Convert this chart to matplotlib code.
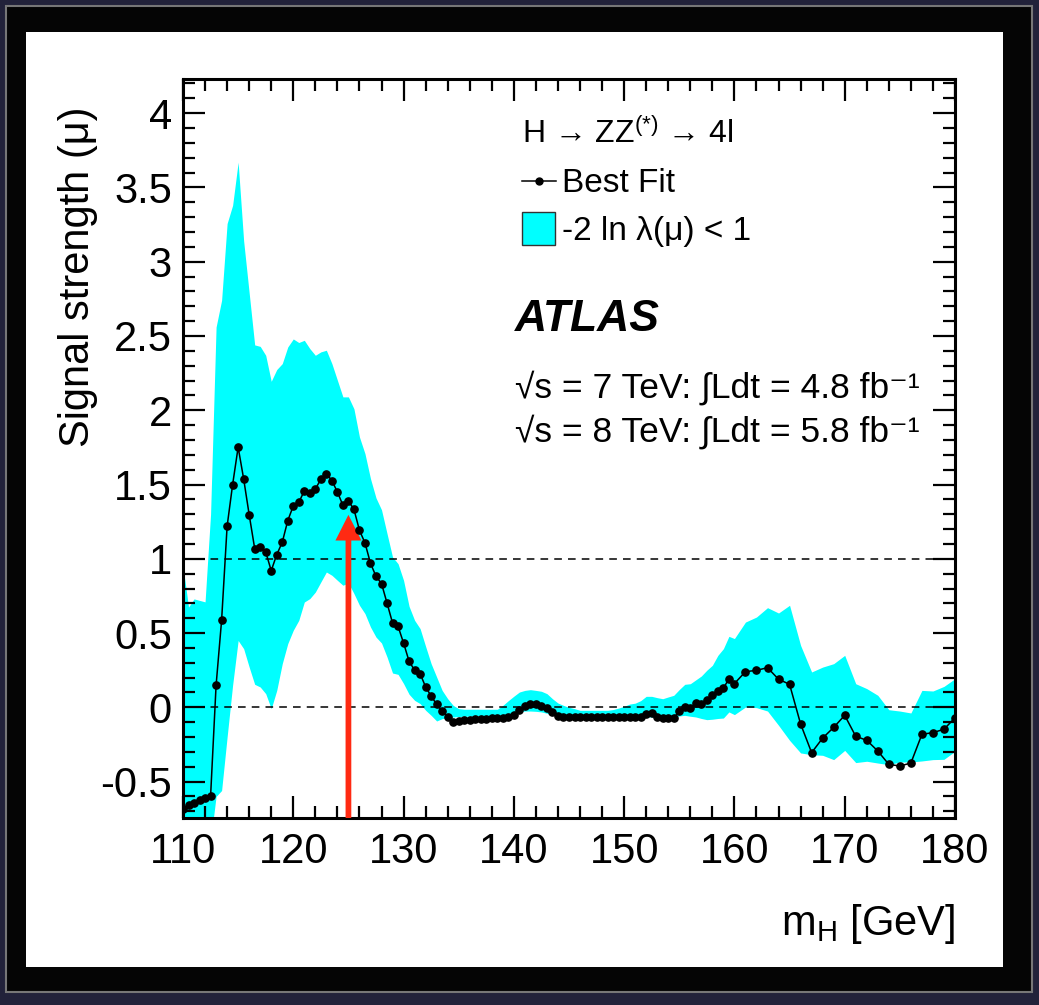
import numpy as np
import matplotlib
matplotlib.use('Agg')
import matplotlib.pyplot as plt
from matplotlib.patches import Rectangle
from matplotlib.lines import Line2D
from matplotlib.ticker import MultipleLocator, FuncFormatter

plt.rcParams['font.family'] = ['Liberation Sans', 'DejaVu Sans']
plt.rcParams['mathtext.fontset'] = 'custom'
plt.rcParams['mathtext.rm'] = 'Liberation Sans'
plt.rcParams['mathtext.it'] = 'Liberation Sans:italic'
plt.rcParams['axes.unicode_minus'] = False

### mass points: 0.5 GeV steps up to 160, then 1 GeV steps
m_H = np.concatenate([np.arange(110, 160.01, 0.5), np.arange(161, 181, 1)])

best_fit = [
    -0.682, -0.66, -0.642, -0.626, -0.61, -0.60, 0.148, 0.586, 1.219, 1.50,
    1.751, 1.538, 1.297, 1.069, 1.08, 1.046, 0.92, 1.028, 1.111, 1.257,
    1.356, 1.38, 1.457, 1.443, 1.47, 1.535, 1.574, 1.526, 1.45, 1.36,
    1.389, 1.333, 1.192, 1.107, 0.97, 0.882, 0.833, 0.702, 0.568, 0.545,
    0.433, 0.31, 0.25, 0.227, 0.137, 0.076, 0.02, -0.025, -0.062,
    -0.097, -0.09, -0.088, -0.083, -0.08, -0.078, -0.076, -0.074, -0.072, -0.07,
    -0.065, -0.054, -0.016, 0.009, 0.02, 0.02, 0.011, -0.005, -0.031, -0.058,
    -0.062, -0.063, -0.064, -0.064, -0.065, -0.065, -0.065, -0.066, -0.066, -0.066,
    -0.067, -0.067, -0.068, -0.068, -0.068,
    -0.043, -0.038, -0.062, -0.072, -0.07, -0.072, -0.027, 0.002, -0.005, 0.03,
    0.025, 0.052, 0.081, 0.11, 0.13, 0.19, 0.16,
    0.24, 0.249, 0.267, 0.189, 0.155, -0.112, -0.305, -0.207, -0.135, -0.054,
    -0.195, -0.222, -0.294, -0.384, -0.395, -0.375, -0.182, -0.17, -0.148, -0.07,
]

band_hi = [
    0.95, 0.675, 0.73, 0.72, 0.71, 1.3, 2.56, 2.74, 3.257, 3.38,
    3.67, 3.14, 2.79, 2.44, 2.43, 2.37, 2.195, 2.274, 2.314, 2.426,
    2.48, 2.456, 2.471, 2.415, 2.37, 2.393, 2.404, 2.314, 2.202, 2.09,
    2.09, 2.01, 1.82, 1.708, 1.54, 1.41, 1.33, 1.17, 1.012, 0.967,
    0.855, 0.68, 0.586, 0.53, 0.41, 0.294, 0.204, 0.114, 0.058,
    0.013, -0.009, -0.013, -0.013, -0.013, -0.013, -0.013, -0.013, -0.013, 0.013,
    0.045, 0.075, 0.103, 0.114, 0.119, 0.114, 0.108, 0.092, 0.058, 0.029,
    0.013, 0.0, -0.009, -0.02, -0.02, -0.02, -0.02, -0.02, -0.02, -0.015,
    -0.005, 0.007, 0.022, 0.028, 0.045,
    0.074, 0.074, 0.065, 0.058, 0.07, 0.081, 0.12, 0.155, 0.159, 0.185,
    0.211, 0.25, 0.283, 0.35, 0.395, 0.478, 0.463,
    0.574, 0.608, 0.671, 0.635, 0.687, 0.417, 0.238, 0.271, 0.294, 0.35,
    0.159, 0.126, 0.081, -0.016, -0.025, -0.038, 0.114, 0.11, 0.141, 0.193,
]

band_lo = [
    -0.9, -0.9, -0.9, -0.9, -0.9, -0.9, -0.6, -0.56, -0.2, 0.15,
    0.45, 0.395, 0.271, 0.155, 0.137, 0.092, -0.009, 0.114, 0.294, 0.429,
    0.519, 0.586, 0.709, 0.732, 0.776, 0.844, 0.911, 0.889, 0.855, 0.822,
    0.837, 0.766, 0.687, 0.631, 0.541, 0.473, 0.433, 0.339, 0.231, 0.222,
    0.16, 0.088, 0.047, 0.025, -0.02, -0.054, -0.092, -0.076, -0.07,
    -0.065, -0.062, -0.06, -0.06, -0.058, -0.057, -0.056, -0.055, -0.054, -0.05,
    -0.045, -0.038, -0.03, -0.025, -0.025, -0.027, -0.031, -0.04, -0.048, -0.054,
    -0.065, -0.065, -0.065, -0.065, -0.065, -0.065, -0.065, -0.065, -0.065, -0.065,
    -0.065, -0.065, -0.065, -0.065, -0.065,
    -0.065, -0.065, -0.065, -0.065, -0.065, -0.065, -0.058, -0.054, -0.06, -0.065,
    -0.075, -0.083, -0.08, -0.075, -0.072, -0.031, -0.049,
    0.002, -0.002, -0.025, -0.121, -0.222, -0.307, -0.319, -0.323, -0.352, -0.29,
    -0.372, -0.363, -0.375, -0.386, -0.368, -0.368, -0.361, -0.352, -0.35, -0.296,
]

m_obs = 125.0   # red arrow
arrow_top = 1.296

fig = plt.figure(figsize=(10.39, 10.05), dpi=100, facecolor='#22223a')
W, H = 1039., 1005.
# dark frame and white card (behind the axes)
fig.patches.append(Rectangle((6/W, 1-992/H), 1026/W, 986/H, transform=fig.transFigure,
                             facecolor='#050505', edgecolor='#777777', lw=1.5, zorder=-2))
fig.patches.append(Rectangle((26/W, 1-967/H), 977/W, 935/H, transform=fig.transFigure,
                             facecolor='white', edgecolor='none', zorder=-1))

ax = fig.add_axes([183/W, 1-818/H, 772/W, 739/H])
ax.set_facecolor('none')

ax.fill_between(m_H, band_lo, band_hi, color='#00ffff', lw=0, zorder=1)
ax.axhline(0, color='black', lw=1.1, ls=(0, (5, 4)), zorder=2)
ax.axhline(1, color='black', lw=1.1, ls=(0, (5, 4)), zorder=2)
ax.arrow(m_obs, -0.745, 0, arrow_top + 0.745, width=0.52, head_width=2.36, head_length=0.173,
         length_includes_head=True, color='#ff2a12', lw=0, zorder=3)
ax.plot(m_H, best_fit, color='black', lw=1.1, marker='o', ms=5.2, zorder=4)

ax.set_xlim(110, 180)
ax.set_ylim(-0.745, 4.23)

ax.xaxis.set_major_locator(MultipleLocator(10))
ax.xaxis.set_minor_locator(MultipleLocator(2))
ax.yaxis.set_major_locator(MultipleLocator(0.5))
ax.yaxis.set_minor_locator(MultipleLocator(0.1))
ax.yaxis.set_major_formatter(FuncFormatter(lambda v, p: '%g' % v))
ax.tick_params(which='both', direction='in', top=True, right=True, width=1.6, labelsize=30)
ax.tick_params(which='major', length=16)
ax.tick_params(which='minor', length=8.5)
ax.tick_params(axis='x', pad=10)
ax.tick_params(axis='y', pad=8)
for s in ax.spines.values():
    s.set_linewidth(2.2)

fig.text(78/W, 1-106/H, 'Signal strength (μ)', rotation=90, ha='center', va='top', fontsize=30)
fig.text(955/W, 1-935/H, r'm$_\mathrm{H}$ [GeV]', ha='right', va='baseline', fontsize=30)

# legend, drawn by hand
fig.text(522/W, 1-143/H, r'H → ZZ$^{(*)}$ → 4l', ha='left', va='baseline', fontsize=23)
fig.lines.append(Line2D([522/W, 556/W], [1-181/H, 1-181/H], transform=fig.transFigure,
                        color='black', lw=1.1))
fig.lines.append(Line2D([539/W], [1-181/H], transform=fig.transFigure,
                        color='black', marker='o', ms=5))
fig.text(562/W, 1-192/H, 'Best Fit', ha='left', va='baseline', fontsize=24)
fig.patches.append(Rectangle((522/W, 1-245/H), 33/W, 33/H, transform=fig.transFigure,
                             facecolor='#00ffff', edgecolor='#333333', lw=1))
fig.text(562/W, 1-240/H, '-2 ln λ(μ) < 1', ha='left', va='baseline', fontsize=24)

fig.text(515/W, 1-331/H, 'ATLAS', ha='left', va='baseline', fontsize=32,
         fontweight='bold', fontstyle='italic')
fig.text(515/W, 1-398/H, '√s = 7 TeV: ∫Ldt = 4.8 fb⁻¹', ha='left', va='baseline', fontsize=25.5)
fig.text(515/W, 1-442/H, '√s = 8 TeV: ∫Ldt = 5.8 fb⁻¹', ha='left', va='baseline', fontsize=25.5)

fig.savefig('out.png', dpi=100, facecolor=fig.get_facecolor())
